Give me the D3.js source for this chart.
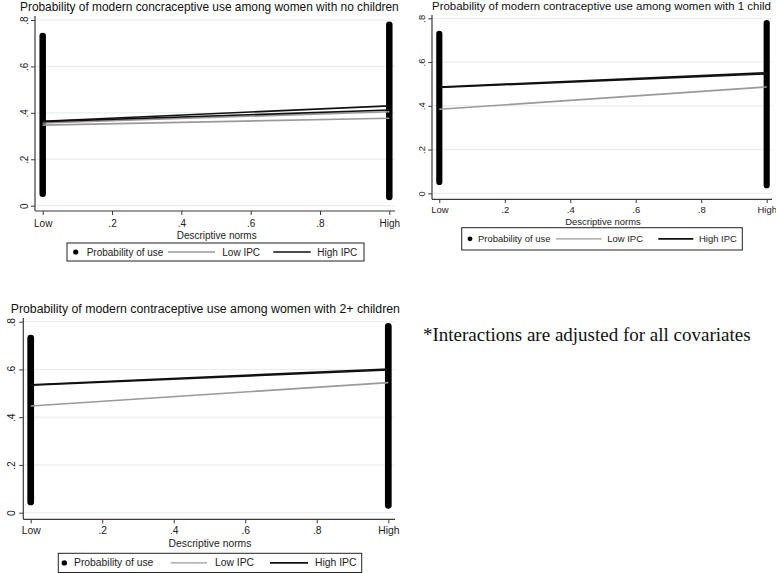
<!DOCTYPE html>
<html><head><meta charset="utf-8">
<script src="https://cdn.jsdelivr.net/npm/d3@7/dist/d3.min.js"></script>
<style>
html,body{margin:0;padding:0;background:#fff;}
svg{display:block;font-family:"Liberation Sans",Arial,sans-serif;}
</style></head>
<body>
<svg id="chart" width="776" height="573"></svg>
<script>
// ---------- DATA ----------
const titles = [
  "Probability of modern concraceptive use among women with no children",
  "Probability of modern contraceptive use among women with 1 child",
  "Probability of modern contraceptive use among women with 2+ children"
];
const yTicks = [0, 0.2, 0.4, 0.6, 0.8];
const yTickLabels = ["0", ".2", ".4", ".6", ".8"];
const xTicks = [0, 0.2, 0.4, 0.6, 0.8, 1];
const xTickLabels = ["Low", ".2", ".4", ".6", ".8", "High"];
const xAxisTitle = "Descriptive norms";
const legendLabels = ["Probability of use", "Low IPC", "High IPC"];
// predicted probability of use: range of values at Low (x=0) and High (x=1) norms
const useRangeLow  = [[0.052, 0.731], [0.052, 0.729], [0.045, 0.731]];
const useRangeHigh = [[0.038, 0.780], [0.037, 0.778], [0.031, 0.780]];
// fitted lines [value at Low, value at High]
const lowIPC  = [[[0.356, 0.405], [0.347, 0.377]], [[0.384, 0.486]], [[0.447, 0.545]]];
const highIPC = [[[0.364, 0.430], [0.362, 0.412]], [[0.486, 0.551], [0.484, 0.546]], [[0.536, 0.602], [0.534, 0.598]]];
const footnote = "*Interactions are adjusted for all covariates";

// ---------- LAYOUT ----------
const layouts = [
  {s:1.0,  ts:11.9, axisX:35,  xLow:42.7,  xHigh:389.3, right:395, y0:205.7, y8:20,    top:16,  xAxisY:211,
   titleX:20, titleY:10.6, tickLabY:223, axTitleX:216.7, axTitleY:235,
   leg:{x1:67, y1:243, x2:364, y2:261, dot:75.7, t1:86.7, g1:168, g2:215, t2:222.3, b1:273.3, b2:310.7, t3:317.3}},
  {s:0.945, ts:11.45, axisX:432, xLow:439.3, xHigh:766.7, right:772, y0:193.3, y8:18.3, top:15, xAxisY:199.3,
   titleX:432, titleY:10.3, tickLabY:209.5, axTitleX:603, axTitleY:221.5,
   leg:{x1:461.7, y1:227.7, x2:742.3, y2:250, dot:470, t1:478, g1:556, g2:601.7, t2:607.3, b1:658.3, b2:693.3, t3:699}},
  {s:1.035, ts:12.3, axisX:23.3, xLow:30.7, xHigh:388.3, right:395, y0:512.7, y8:321.7, top:318, xAxisY:519.3,
   titleX:10.7, titleY:312.5, tickLabY:530.5, axTitleX:210, axTitleY:543,
   leg:{x1:58.3, y1:553.3, x2:361.7, y2:572.5, dot:64.3, t1:74, g1:170.7, g2:207, t2:215, b1:270, b2:308, t3:315}}
];

const svg = d3.select("#chart");
const grayCol = "#9a9a9a", blackCol = "#111", axisCol = "#3a3a3a", gridCol = "#e4ecec";

layouts.forEach((L, i) => {
  const g = svg.append("g");
  const s = L.s;
  const x = d3.scaleLinear().domain([0, 1]).range([L.xLow, L.xHigh]);
  const y = d3.scaleLinear().domain([0, 0.8]).range([L.y0, L.y8]);

  // title
  g.append("text").attr("x", L.titleX).attr("y", L.titleY)
    .attr("font-size", L.ts).attr("fill", "#111").text(titles[i]);

  // gridlines
  g.selectAll(".grid").data(yTicks).enter().append("line")
    .attr("x1", L.axisX).attr("x2", L.right)
    .attr("y1", d => y(d)).attr("y2", d => y(d))
    .attr("stroke", gridCol).attr("stroke-width", 1);

  // y axis
  const ya = g.append("g").attr("transform", `translate(${L.axisX},0)`)
    .call(d3.axisLeft(y).tickValues(yTicks).tickFormat((d, k) => yTickLabels[k]).tickSize(4 * s));
  ya.select(".domain").remove();
  ya.selectAll("line").attr("stroke", axisCol);
  ya.selectAll("text").attr("x", null).attr("dy", null)
    .attr("transform", `translate(${-11 * s},0) rotate(-90)`)
    .attr("text-anchor", "middle").attr("dominant-baseline", "central")
    .attr("font-size", 10 * s).attr("fill", "#222").style("font-family", "Liberation Sans, Arial, sans-serif");
  g.append("line").attr("x1", L.axisX).attr("x2", L.axisX).attr("y1", L.top).attr("y2", L.xAxisY)
    .attr("stroke", axisCol).attr("stroke-width", 1.2);

  // x axis
  const xa = g.append("g").attr("transform", `translate(0,${L.xAxisY})`)
    .call(d3.axisBottom(x).tickValues(xTicks).tickFormat((d, k) => xTickLabels[k]).tickSize(4 * s));
  xa.select(".domain").remove();
  xa.selectAll("line").attr("stroke", axisCol);
  xa.selectAll("text").attr("dy", null).attr("y", L.tickLabY - L.xAxisY)
    .attr("dominant-baseline", "central")
    .attr("font-size", 10 * s).attr("fill", "#222").style("font-family", "Liberation Sans, Arial, sans-serif");
  g.append("line").attr("x1", L.axisX).attr("x2", L.right).attr("y1", L.xAxisY).attr("y2", L.xAxisY)
    .attr("stroke", axisCol).attr("stroke-width", 1.2);

  g.append("text").attr("x", L.axTitleX).attr("y", L.axTitleY)
    .attr("text-anchor", "middle").attr("dominant-baseline", "central")
    .attr("font-size", 10 * s).attr("fill", "#222").text(xAxisTitle);

  // probability of use (dense points -> vertical bands)
  const bands = [{xv: 0, r: useRangeLow[i]}, {xv: 1, r: useRangeHigh[i]}];
  g.selectAll(".band").data(bands).enter().append("line")
    .attr("x1", d => x(d.xv)).attr("x2", d => x(d.xv))
    .attr("y1", d => y(d.r[0])).attr("y2", d => y(d.r[1]))
    .attr("stroke", "#000").attr("stroke-width", 6.5 * s).attr("stroke-linecap", "round");

  // fitted lines
  const line = d3.line().x((d, k) => x(k)).y(d => y(d));
  lowIPC[i].forEach(v => g.append("path").attr("d", line(v)).attr("fill", "none")
    .attr("stroke", grayCol).attr("stroke-width", 1.6));
  highIPC[i].forEach(v => g.append("path").attr("d", line(v)).attr("fill", "none")
    .attr("stroke", blackCol).attr("stroke-width", 1.6));

  // legend
  const lg = L.leg, cy = (lg.y1 + lg.y2) / 2;
  g.append("rect").attr("x", lg.x1).attr("y", lg.y1).attr("width", lg.x2 - lg.x1).attr("height", lg.y2 - lg.y1)
    .attr("fill", "#fff").attr("stroke", "#222").attr("stroke-width", 1);
  g.append("circle").attr("cx", lg.dot).attr("cy", cy).attr("r", 2.6 * s).attr("fill", "#000");
  g.append("line").attr("x1", lg.g1).attr("x2", lg.g2).attr("y1", cy).attr("y2", cy).attr("stroke", grayCol).attr("stroke-width", 1.4);
  g.append("line").attr("x1", lg.b1).attr("x2", lg.b2).attr("y1", cy).attr("y2", cy).attr("stroke", blackCol).attr("stroke-width", 1.6);
  [lg.t1, lg.t2, lg.t3].forEach((tx, k) => g.append("text").attr("x", tx).attr("y", cy)
    .attr("dominant-baseline", "central").attr("font-size", 10 * s).attr("fill", "#222").text(legendLabels[k]));
});

// footnote
svg.append("text").attr("x", 423).attr("y", 341)
  .attr("font-family", "Liberation Serif, Times New Roman, serif").attr("font-size", 19)
  .attr("fill", "#111").text(footnote);
</script>
</body></html>
